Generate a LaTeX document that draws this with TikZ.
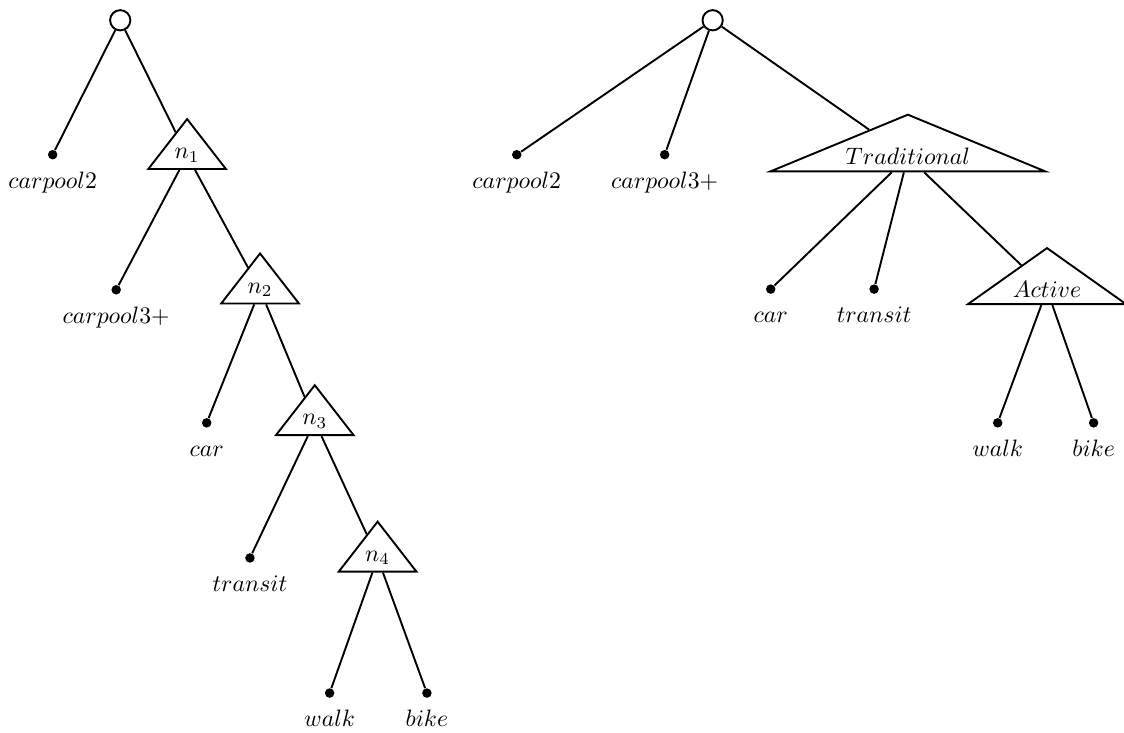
\documentclass[tikz,border=0pt]{standalone}
\usepackage{amsmath, amssymb}
\usetikzlibrary{shapes.geometric}

\tikzset{
  root/.style={draw, circle, minimum size=0.3cm, inner sep=0pt, line width=0.8pt},
  leaf/.style={fill, circle, minimum size=4pt, inner sep=0pt},
  word/.style={text height=1.5ex, text depth=0.25ex, label distance=2pt},
  nest/.style={draw, isosceles triangle, isosceles triangle stretches,
    shape border rotate=90, inner sep=1.5pt, line width=0.8pt},
  branch/.style={line width=0.8pt}
}

\begin{document}
\begin{tikzpicture}

\useasboundingbox (0,0) rectangle (16.64,-10.85);

% Left tree: nested binary splits
\node[root] (rootL) at (1.78,-0.30) {};
\node[leaf, label={[word]below:$carpool2$}] (c2L) at (0.78,-2.29) {};
\node[nest, isosceles triangle apex angle=76, minimum width=1.15cm, minimum height=0.74cm] (n1) at (2.77,-2.30) {$n_1$};
\node[leaf, label={[word]below:$carpool3+$}] (c3L) at (1.72,-4.29) {};
\node[nest, isosceles triangle apex angle=76, minimum width=1.15cm, minimum height=0.74cm] (n2) at (3.85,-4.29) {$n_2$};
\node[leaf, label={[word]below:$car$}] (carL) at (3.06,-6.26) {};
\node[nest, isosceles triangle apex angle=76, minimum width=1.15cm, minimum height=0.74cm] (n3) at (4.66,-6.24) {$n_3$};
\node[leaf, label={[word]below:$transit$}] (trL) at (3.70,-8.26) {};
\node[nest, isosceles triangle apex angle=76, minimum width=1.15cm, minimum height=0.74cm] (n4) at (5.59,-8.26) {$n_4$};
\node[leaf, label={[word]below:$walk$}] (walkL) at (4.88,-10.26) {};
\node[leaf, label={[word]below:$bike$}] (bikeL) at (6.32,-10.26) {};

\draw[branch] (rootL) -- (c2L);
\draw[branch] (rootL) -- (n1);
\draw[branch] (n1) -- (c3L);
\draw[branch] (n1) -- (n2);
\draw[branch] (n2) -- (carL);
\draw[branch] (n2) -- (n3);
\draw[branch] (n3) -- (trL);
\draw[branch] (n3) -- (n4);
\draw[branch] (n4) -- (walkL);
\draw[branch] (n4) -- (bikeL);

% Right tree: grouped nests
\node[root] (rootR) at (10.55,-0.30) {};
\node[leaf, label={[word]below:$carpool2$}] (c2R) at (7.65,-2.29) {};
\node[leaf, label={[word]below:$carpool3+$}] (c3R) at (9.84,-2.29) {};
\node[nest, isosceles triangle apex angle=135, minimum width=4.07cm, minimum height=0.84cm] (trad) at (13.44,-2.32) {$Traditional$};
\node[leaf, label={[word]below:$car$}] (carR) at (11.41,-4.28) {};
\node[leaf, label={[word]below:$transit$}] (trR) at (12.94,-4.28) {};
\node[nest, isosceles triangle apex angle=109, minimum width=2.34cm, minimum height=0.83cm] (act) at (15.50,-4.29) {$Active$};
\node[leaf, label={[word]below:$walk$}] (walkR) at (14.77,-6.26) {};
\node[leaf, label={[word]below:$bike$}] (bikeR) at (16.19,-6.26) {};

\draw[branch] (rootR) -- (c2R);
\draw[branch] (rootR) -- (c3R);
\draw[branch] (rootR) -- (trad);
\draw[branch] (trad) -- (carR);
\draw[branch] (trad) -- (trR);
\draw[branch] (trad) -- (act);
\draw[branch] (act) -- (walkR);
\draw[branch] (act) -- (bikeR);

\end{tikzpicture}
\end{document}
